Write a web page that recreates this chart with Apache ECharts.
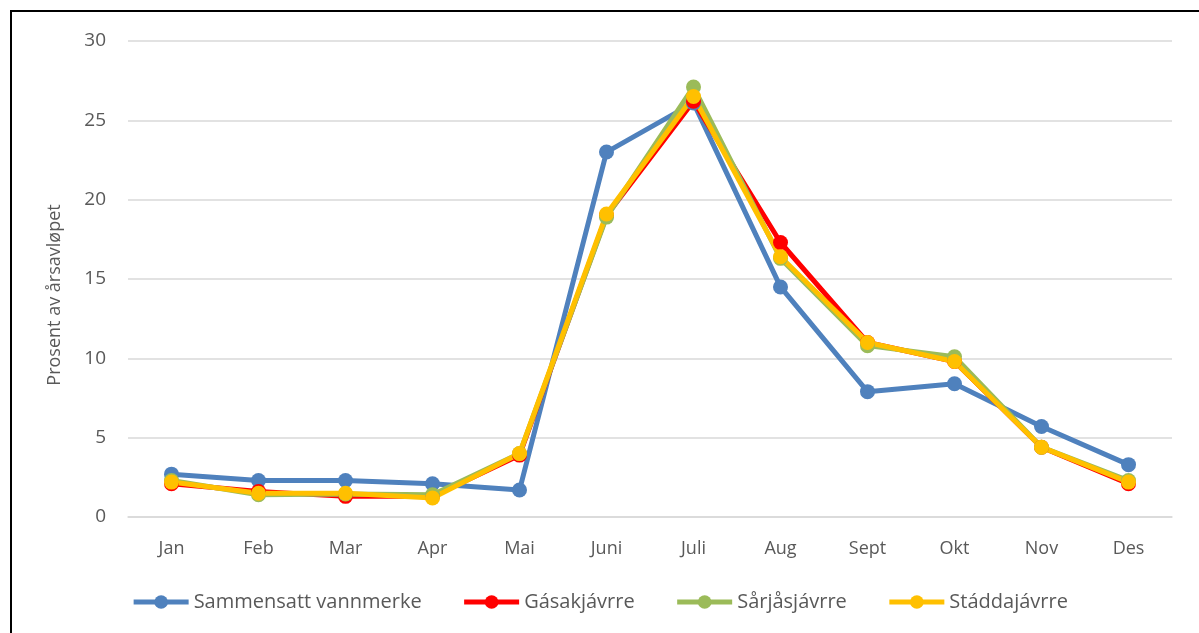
<!DOCTYPE html>
<html>
<head>
<meta charset="utf-8">
<script src="https://cdn.jsdelivr.net/npm/echarts@6/dist/echarts.min.js"></script>
<style>
  html, body { margin: 0; padding: 0; background: #fff; }
  #chart { width: 1199px; height: 633px; }
</style>
</head>
<body>
<div id="chart"></div>
<script>
// månedene på x-aksen
const months = ['Jan', 'Feb', 'Mar', 'Apr', 'Mai', 'Juni', 'Juli', 'Aug', 'Sept', 'Okt', 'Nov', 'Des'];

// prosent av årsavløpet per måned
const sammensatt = [2.7, 2.3, 2.3, 2.1, 1.7, 23.0, 26.1, 14.5, 7.9, 8.4, 5.7, 3.3];
const gasakjavrre = [2.1, 1.6, 1.3, 1.3, 3.9, 19.0, 26.2, 17.3, 11.0, 9.8, 4.4, 2.1];
const sarjasjavrre = [2.3, 1.4, 1.45, 1.4, 4.0, 18.9, 27.1, 16.3, 10.8, 10.1, 4.4, 2.3];
const staddajavrre = [2.2, 1.5, 1.5, 1.2, 4.0, 19.1, 26.5, 16.4, 11.0, 9.8, 4.4, 2.2];

const names = ['Sammensatt vannmerke', 'Gásakjávrre', 'Sårjåsjávrre', 'Stáddajávrre'];
const colors = ['#4F81BD', '#FF0000', '#9BBB59', '#FFC000'];
const values = [sammensatt, gasakjavrre, sarjasjavrre, staddajavrre];

const font = '"Open Sans", "Liberation Sans", sans-serif';

const chart = echarts.init(document.getElementById('chart'));

var option = {
  animation: false,
  textStyle: { fontFamily: font },
  graphic: [{
    type: 'rect',
    z: -10,
    shape: { x: 11, y: 11, width: 1400, height: 800 },
    style: { fill: 'none', stroke: '#000', lineWidth: 2 }
  }],
  grid: { left: 128, right: 27, top: 41, bottom: 116 },
  legend: {
    data: names,
    bottom: 16,
    left: 'center',
    itemWidth: 55,
    itemHeight: 17,
    itemGap: 40,
    lineStyle: { width: 5 },
    textStyle: { fontSize: 20, color: '#595959', fontFamily: font }
  },
  xAxis: {
    type: 'category',
    data: months,
    boundaryGap: true,
    axisLine: { show: true, lineStyle: { color: '#d9d9d9', width: 1.5 } },
    axisTick: { show: false },
    axisLabel: { fontSize: 18, color: '#595959', margin: 23 }
  },
  yAxis: {
    type: 'value',
    min: 0,
    max: 30,
    interval: 5,
    name: 'Prosent av årsavløpet',
    nameLocation: 'middle',
    nameGap: 64,
    nameTextStyle: { fontSize: 18, color: '#595959', padding: [0, 32, 0, 0] },
    axisLine: { show: false },
    axisTick: { show: false },
    axisLabel: { fontSize: 19, color: '#595959', margin: 22 },
    splitLine: { lineStyle: { color: '#d9d9d9', width: 1.5 } }
  },
  series: []
};

values.forEach((v, i) => {
  option.series.push({
    name: names[i],
    type: 'line',
    data: v,
    symbol: 'circle',
    symbolSize: 15,
    color: colors[i],
    lineStyle: { width: 5, color: colors[i] },
    itemStyle: { color: colors[i] }
  });
});

chart.setOption(option);
</script>
</body>
</html>
